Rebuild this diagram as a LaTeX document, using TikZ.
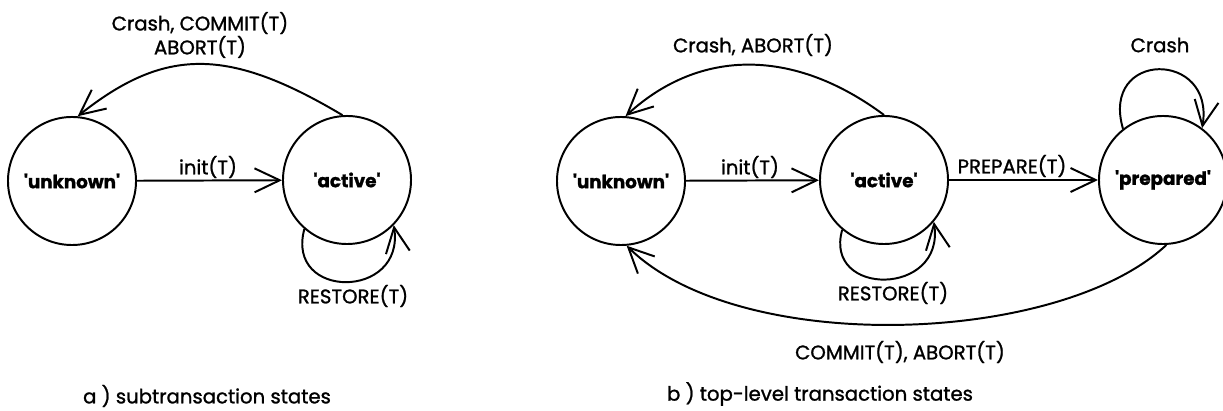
\documentclass[tikz,border=0pt]{standalone}
\usepackage{fontspec}
\setmainfont{Poppins}[FakeBold=1.2]
\usetikzlibrary{arrows.meta}
\newcommand{\sq}{\textquotesingle}

\begin{document}
\begin{tikzpicture}[x=0.025cm,y=-0.025cm,line width=1.4pt,
  font=\fontsize{14}{17}\selectfont,
  >={Straight Barb[length=6.3mm,width=6mm]},
  state/.style={circle,draw,minimum size=3.2cm,inner sep=0pt,font=\fontsize{13}{16}\selectfont\bfseries}]
\useasboundingbox (0,0) rectangle (1223,411);
% a) subtransactions
\node[state] (aunk) at (72,181) {\sq unknown\sq};
\node[state] (aact) at (347,180) {\sq active\sq};
\draw[->] (aunk) -- (aact);
\draw[->] (aact.94) .. controls (228,47) and (165,47) .. (aunk.85);
\draw[->] (aact.229) .. controls (285,300) and (405,300) .. (aact.316);
\node[align=center] (acrash) at (200,35) {Crash, COMMIT(T)\\ABORT(T)};
\node (ainit) at (208,167) {init(T)};
\node (arest) at (353,296) {RESTORE(T)};
% b) top-level transactions
\node[state] (bunk) at (621,181) {\sq unknown\sq};
\node[state] (bact) at (884,180) {\sq active\sq};
\node[state] (bprep) at (1163,180) {\sq prepared\sq};
\draw[->] (bunk) -- (bact);
\draw[->] (bact) -- (bprep);
\draw[->] (bact.90) .. controls (794,48) and (700,48) .. (bunk.86);
\draw[->] (bact.230) .. controls (823,297) and (945,297) .. (bact.320);
\draw[->] (bprep.128) .. controls (1100,50) and (1215,50) .. (bprep.53);
\draw[->] (bprep.273) .. controls (1060,345) and (740,357) .. (bunk.275);
\node (bcrash) at (753,45) {Crash, ABORT(T)};
\node (binit) at (750,167) {init(T)};
\node (bprepl) at (1012,166) {PREPARE(T)};
\node (bcrash2) at (1160,45) {Crash};
\node (brest) at (893,293) {RESTORE(T)};
\node (bcommit) at (900,352) {COMMIT(T), ABORT(T)};
% captions
\node (capa) at (207,396) {a ) subtransaction states};
\node (capb) at (820,394) {b ) top-level transaction states};
\end{tikzpicture}
\end{document}
